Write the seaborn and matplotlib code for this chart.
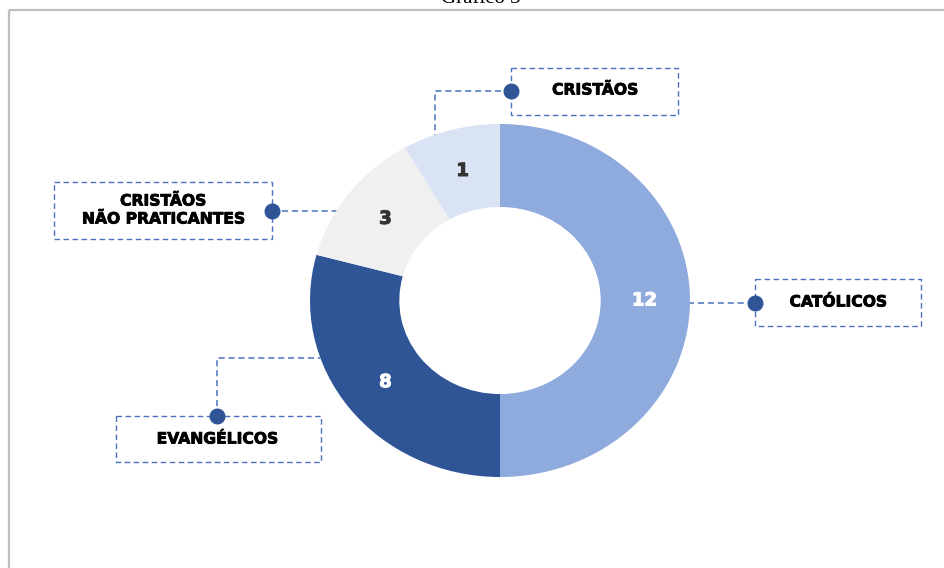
import matplotlib

matplotlib.use("Agg")

import matplotlib.pyplot as plt
import matplotlib.patheffects as pe
import seaborn as sns
from matplotlib.patches import Rectangle

# slices, in the order they run clockwise from 12 o'clock
categories = ["CATÓLICOS", "EVANGÉLICOS", "CRISTÃOS\nNÃO PRATICANTES", "CRISTÃOS"]
# slice sizes as drawn in the original (angles 180/105/45/30 degrees)
slice_sizes = [12, 7, 3, 2]
# numbers printed on the slices in the original
shown_values = ["12", "8", "3", "1"]

slice_colors = ["#8FAADC", "#2F5597", "#F0F0F0", "#DAE3F3"]
value_colors = ["white", "white", "#333333", "#333333"]

sns.set_theme(style="white")
plt.rcParams["font.family"] = ["DejaVu Sans"]

W, H = 945, 568
fig = plt.figure(figsize=(W / 100, H / 100), dpi=100)

# full-figure axes in pixel units for frame, callouts and title
ax = fig.add_axes([0, 0, 1, 1])
ax.set_xlim(0, W)
ax.set_ylim(H, 0)
ax.axis("off")

# frame (top and left edges visible)
ax.plot([9, W], [10, 10], color="#BFBFBF", lw=1.6, solid_capstyle="butt")
ax.plot([9, 9], [10, H], color="#BFBFBF", lw=1.6, solid_capstyle="butt")

# title, cropped by the top edge as in the original
ax.text(481, 3, "Gráfico 3", ha="center", va="baseline", fontsize=15,
        family="Liberation Serif", color="black")

# donut (slightly wider than tall, as in the original)
cx, cy, rx, ry = 500, 300.5, 190, 176.5
pax = fig.add_axes([(cx - rx) / W, (H - cy - ry) / H, 2 * rx / W, 2 * ry / H])
palette = sns.color_palette(slice_colors)
wedges, _, autotexts = pax.pie(
    slice_sizes,
    colors=palette,
    startangle=90,
    counterclock=False,
    radius=1,
    autopct="%d",
    pctdistance=0.76,
    wedgeprops=dict(width=0.47, linewidth=0, edgecolor="none"),
)
for t, val, col in zip(autotexts, shown_values, value_colors):
    t.set_text(val)
    t.set_color(col)
    t.set_fontsize(13)
    t.set_fontweight("bold")
    t.set_path_effects([pe.withStroke(linewidth=0.8, foreground=col)])
pax.set_xlim(-1, 1)
pax.set_ylim(-1, 1)
pax.set_aspect("auto")
pax.axis("off")

line_kw = dict(color="#4A72BE", lw=1.1, ls=(0, (4, 2.5)))
dot_kw = dict(marker="o", markersize=10.5, color="#2F5597", zorder=5)
text_kw = dict(ha="center", va="center", fontsize=11.2, fontweight="bold",
               color="black", linespacing=1.25,
               path_effects=[pe.withStroke(linewidth=0.6, foreground="black")])

# callout layout: box (x, y, w, h), leader path, dot, text centre
callouts = {
    "CATÓLICOS": ((755, 279, 166, 47), [(688, 303), (755, 303)], (755, 303), (838, 302)),
    "EVANGÉLICOS": ((116, 416, 205, 46), [(217, 416), (217, 358), (320, 358)], (217, 416), (217, 439)),
    "CRISTÃOS\nNÃO PRATICANTES": ((54, 182, 218, 57), [(272, 211), (340, 211)], (272, 211), (163, 210)),
    "CRISTÃOS": ((511, 68, 167, 47), [(511, 91), (435, 91), (435, 137)], (511, 91), (595, 90)),
}

for name in categories:
    (bx, by, bw, bh), path, (dx, dy), (tx, ty) = callouts[name]
    ax.add_patch(Rectangle((bx, by), bw, bh, fill=False, ec="#4A72BE", lw=1.0,
                           ls=(0, (4, 2.5))))
    xs, ys = zip(*path)
    ax.plot(xs, ys, **line_kw)
    ax.plot([dx], [dy], **dot_kw)
    ax.text(tx, ty, name, **text_kw)

fig.savefig("out.png", dpi=100)
